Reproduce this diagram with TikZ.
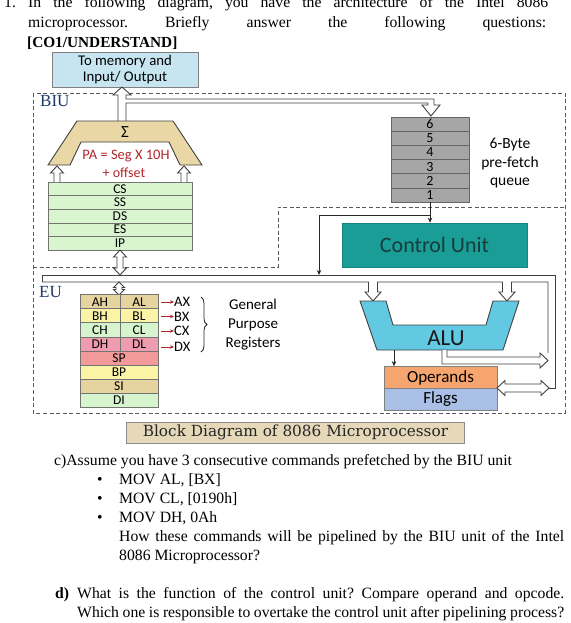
\documentclass[tikz,border=0pt]{standalone}
\usepackage{fontspec}
\setmainfont{Liberation Serif}
\newfontfamily\gillf{Carlito}
\newfontfamily\slabf{DejaVu Serif}
\usetikzlibrary{arrows.meta,decorations.pathreplacing}
\frenchspacing
\definecolor{memB}{HTML}{C6E5F0}
\definecolor{sigT}{HTML}{E9D8A6}
\definecolor{segG}{HTML}{D8F5D0}
\definecolor{qGray}{HTML}{A6A6A6}
\definecolor{cuT}{HTML}{1A9C97}
\definecolor{cuTxt}{HTML}{163C3B}
\definecolor{aluB}{HTML}{63C8E2}
\definecolor{opO}{HTML}{F6A56F}
\definecolor{flB}{HTML}{AABFE5}
\definecolor{ahT}{HTML}{E6D49F}
\definecolor{bhY}{HTML}{FBF3A6}
\definecolor{chG}{HTML}{D6F4CE}
\definecolor{dhP}{HTML}{EF9DAE}
\definecolor{spR}{HTML}{F2999B}
\definecolor{navyT}{HTML}{1F3864}
\definecolor{redT}{HTML}{B3262B}
\definecolor{blkB}{HTML}{E6D9BA}
\definecolor{lineG}{HTML}{404040}
\newcommand{\vhollow}[3]{%
  \path[hollow] ({#1-3},#2) -- ({#1-3},{#3+7}) -- ({#1-6.5},{#3+7}) -- (#1,#3) -- ({#1+6.5},{#3+7}) -- ({#1+3},{#3+7}) -- ({#1+3},#2);}
\tikzset{
  qtext/.style={inner sep=0pt, anchor=base west, font=\fontsize{15.7}{19}\selectfont\frenchspacing},
  dashln/.style={draw=black!65, line width=0.9pt, dash pattern=on 4pt off 2.6pt},
  hollow/.style={draw=lineG, line width=0.9pt, fill=white, line join=miter},
  busln/.style={draw=lineG, line width=0.9pt, line join=miter},
  ctl/.style={draw=black!85, line width=1pt, -{Stealth[length=5pt,width=4.5pt]}},
  redarr/.style={draw=redT, line width=0.8pt, -{Stealth[length=4pt,width=3.5pt]}},
  regrow/.style={draw=black!55, line width=0.6pt, inner sep=0pt, minimum height=13.6pt, minimum width=144pt, fill=segG, font=\gillf\fontsize{13.5}{13.5}\selectfont},
  gprow/.style={draw=black!55, line width=0.6pt, inner sep=0pt, minimum height=14.04pt, font=\gillf\fontsize{13.5}{13.5}\selectfont},
  qrow/.style={draw=black!60, line width=0.6pt, inner sep=0pt, minimum height=14.17pt, minimum width=78pt, fill=qGray, font=\gillf\fontsize{14}{14}\selectfont},
  gptxt/.style={inner sep=0pt, font=\gillf\fontsize{14.5}{14.5}\selectfont},
  unitlbl/.style={inner sep=0pt, anchor=west, text=navyT, font=\fontsize{17}{17}\selectfont},
  boxlbl/.style={inner sep=0pt, draw=black!50, line width=0.7pt},
}
\begin{document}
\begin{tikzpicture}[x=1pt,y=-1pt]
\useasboundingbox (0,0) rectangle (570,623);
\fill[white] (0,0) rectangle (570,623);

% question header
\node[qtext] (n1) at (4,7.3) {1.};
\node[qtext] (l1) at (28,7.3) {\makebox[520pt][s]{In the following diagram, you have the architecture of the Intel 8086}};
\node[qtext] (l2) at (28,27.7) {\makebox[518pt][s]{microprocessor. Briefly answer the following questions:}};
\node[qtext, font=\fontsize{15.3}{19}\selectfont] (l3) at (27,47.5) {\textbf{[CO1/UNDERSTAND]}};

% dashed unit boundaries
\draw[dashln] (33,93) rectangle (565,413);
\draw[dashln] (33,267) -- (278,267) -- (278,207) -- (565,207);
\node[unitlbl] (biu) at (40,101.5) {BIU};
\node[unitlbl] (eu) at (39,292) {EU};

% memory box
\node[boxlbl, fill=memB, minimum width=146pt, minimum height=35pt, align=center, font=\gillf\fontsize{14.8}{16}\selectfont] (mem) at (125,69.5) {To memory and\\Input/ Output};

% top bus
\path[hollow] (118,121) -- (118,95) -- (113,95) -- (122,87) -- (131,95) -- (126,95) -- (126,99) -- (434,99) -- (434,105) -- (440,105) -- (431,116) -- (422,105) -- (428,105) -- (428,103) -- (126,103) -- (126,121);

% adder
\draw[draw=lineG, line width=0.9pt, fill=sigT] (77,121) -- (173,121) -- (202,165) -- (180,165) -- (169,142) -- (81,142) -- (70,165) -- (48,165) -- cycle;
\node[inner sep=0pt, font=\gillf\fontsize{17}{17}\selectfont] (sig) at (125,132) {Σ};
\node[inner sep=0pt, text=redT, font=\gillf\fontsize{14.5}{14.5}\selectfont] (pa) at (126,156.5) {PA = Seg X 10H};
\node[inner sep=0pt, text=redT, font=\gillf\fontsize{14}{14}\selectfont] (off) at (124,173) {+ offset};

% segment registers
\foreach \lab [count=\i from 0] in {CS,SS,DS,ES,IP}
  \node[regrow] (\lab) at (120,{188.8+\i*13.6}) {\lab};
\vhollow{57}{182}{166}
\vhollow{184}{182}{166}

% IP <-> bus
\path[hollow] (120,250) -- (126.5,257) -- (123,257) -- (123,268) -- (126.5,268) -- (120,275) -- (113.5,268) -- (117,268) -- (117,257) -- (113.5,257) -- cycle;

% queue
\foreach \lab [count=\i from 0] in {6,5,4,3,2,1}
  \node[qrow] (q\lab) at (430,{124.1+\i*14.17}) {\lab};
\node[align=center, inner sep=0pt, font=\gillf\fontsize{15.5}{18.5}\selectfont] (qlbl) at (510,163.5) {6-Byte\\pre-fetch\\queue};

% control unit
\node[fill=cuT, draw=cuT!85!black, line width=0.6pt, minimum width=185pt, minimum height=44pt, inner sep=0pt, text=cuTxt, font=\gillf\fontsize{22}{22}\selectfont] (cu) at (434.5,245) {Control Unit};
\draw[ctl] (q1.south) -- (q1.south |- cu.north);
\coordinate (jn) at (430,215);
\coordinate (bt) at (319,275);
\draw[ctl] (jn) -| (bt);

% EU bus
\draw[busln] (42,282) -- (42,275) -- (555,275) -- (555,388) -- (549,388);
\draw[busln] (42,282) -- (368.5,282) -- (368.5,292) -- (365,292) -- (373,301) -- (381,292) -- (377.5,292) -- (377.5,282) -- (502.5,282) -- (502.5,292) -- (499,292) -- (507,301) -- (515,292) -- (511.5,292) -- (511.5,282) -- (548,282) -- (548,353);
\path[hollow] (119,282) -- (124.5,287.5) -- (122,287.5) -- (122,289.5) -- (124.5,289.5) -- (119,295) -- (113.5,289.5) -- (116,289.5) -- (116,287.5) -- (113.5,287.5) -- cycle;

% ALU
\draw[draw=lineG, line width=0.9pt, fill=aluB] (360,301) -- (386,301) -- (393,325) -- (486,325) -- (493,301) -- (519,301) -- (503,350) -- (377,350) -- cycle;
\node[inner sep=0pt, font=\gillf\fontsize{23}{23}\selectfont, text=black!90] (alu) at (446,338) {ALU};
\path[hollow] (442,350) -- (442,364) -- (540,364) -- (540,368) -- (548,360.5) -- (540,353) -- (540,357) -- (447,357) -- (447,350);

% operands and flags
\node[boxlbl, fill=opO, minimum width=113pt, minimum height=22pt, font=\gillf\fontsize{17}{17}\selectfont] (ops) at (440.5,377.5) {Operands};
\node[boxlbl, fill=flB, minimum width=113pt, minimum height=22pt, font=\gillf\fontsize{17}{17}\selectfont] (flg) at (440.5,399.5) {Flags};
\coordinate (aluo) at (394,350);
\draw[ctl] (aluo) -- (aluo |- ops.north);
\path[hollow] (497,388) -- (505,380.5) -- (505,384) -- (541,384) -- (541,380.5) -- (549,388) -- (541,395.5) -- (541,392) -- (505,392) -- (505,395.5) -- cycle;

% general purpose registers
\foreach \l/\r/\col [count=\i from 0] in {AH/AL/ahT, BH/BL/bhY, CH/CL/chG, DH/DL/dhP} {
  \node[gprow, fill=\col, minimum width=40pt] (h\i) at (100,{301.7+\i*14.04}) {\l};
  \node[gprow, fill=\col, minimum width=38pt] (r\i) at (139,{301.7+\i*14.04}) {\r};
}
\foreach \nm/\col [count=\i from 4] in {SP/spR, BP/bhY, SI/ahT, DI/chG}
  \node[gprow, fill=\col, minimum width=78pt] (\nm) at (119,{301.7+\i*14.04}) {\nm};

\foreach \t/\y [count=\i] in {AX/302, BX/316.5, CX/331, DX/347} {
  \node[gptxt, anchor=west] (x\i) at (174,\y) {\t};
  \coordinate (rs\i) at (161,\y);
  \draw[redarr] (rs\i) -- (x\i.west);
}
\draw[decorate, decoration={brace, amplitude=6pt}, line width=0.8pt, draw=black!85] (201,297) -- (201,352);
\node[align=center, inner sep=0pt, font=\gillf\fontsize{15}{19}\selectfont] (gpr) at (253,324.5) {General\\Purpose\\Registers};

% caption
\node[draw=black!45, line width=0.6pt, fill=blkB, minimum width=338pt, minimum height=21pt, inner sep=0pt, font=\slabf\fontsize{15.3}{15.3}\selectfont, text=black!85] (bd) at (295.5,432.5) {Block Diagram of 8086 Microprocessor};

% questions
\node[qtext] (c1) at (54,465.5) {c)Assume you have 3 consecutive commands prefetched by the BIU unit};
\node[qtext] (b1) at (97,484.5) {\textbullet};
\node[qtext] (b2) at (97,503.5) {\textbullet};
\node[qtext] (b3) at (97,522.5) {\textbullet};
\node[qtext] (m1) at (119,484.5) {MOV AL, [BX]};
\node[qtext] (m2) at (119,503.5) {MOV CL, [0190h]};
\node[qtext] (m3) at (119,522.5) {MOV DH, 0Ah};
\node[qtext] (h1) at (119,541.5) {\makebox[445pt][s]{How these commands will be pipelined by the BIU unit of the Intel}};
\node[qtext] (h2) at (119,560.5) {8086 Microprocessor?};
\node[qtext] (d0) at (55,598.5) {\textbf{d)}};
\node[qtext] (d1) at (77,598.5) {\makebox[487pt][s]{What is the function of the control unit? Compare operand and opcode.}};
\node[qtext] (d2) at (77,617.5) {\makebox[487pt][s]{Which one is responsible to overtake the control unit after pipelining process?}};
\end{tikzpicture}
\end{document}
